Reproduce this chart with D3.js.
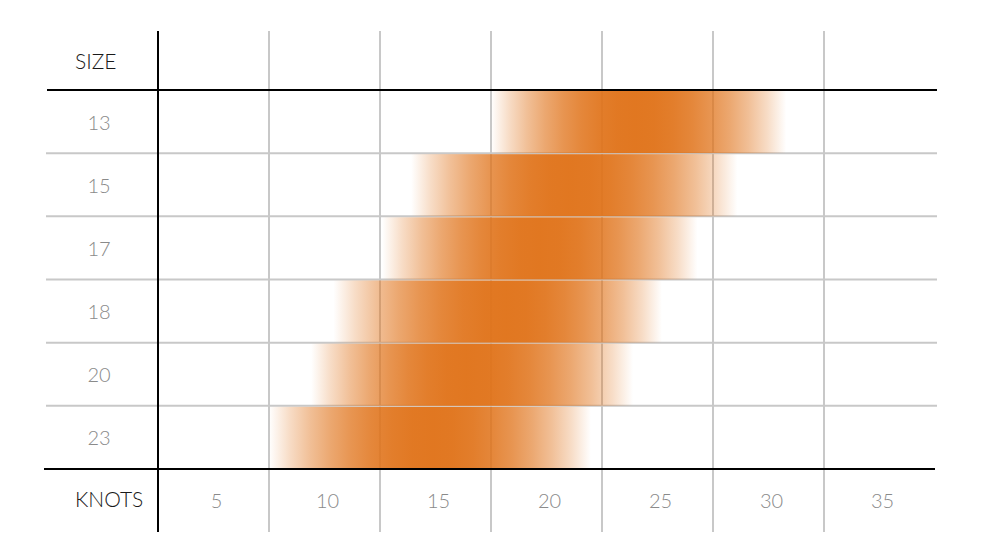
<!DOCTYPE html>
<html>
<head>
<meta charset="utf-8">
<script src="https://cdn.jsdelivr.net/npm/d3@7"></script>
<style>
body { margin: 0; background: #fff; }
text { font-family: Lato, "Open Sans", sans-serif; font-weight: 300; }
</style>
</head>
<body>
<script>
// kite sizes (rows) and wind columns
var sizes = ["13", "15", "17", "18", "20", "23"];
var knots = [5, 10, 15, 20, 25, 30, 35];
// wind range per size, in knots: where it starts, where it works best, where it ends
var rangeLow  = [17.5, 13.9, 12.6, 10.4, 9.4, 7.5];
var rangePeak = [24.0, 21.0, 19.7, 18.2, 16.4, 14.9];
var rangeHigh = [30.8, 28.6, 26.8, 25.2, 23.9, 22.0];

var width = 988, height = 555;
var left = 158, right = 935, gridTop = 31, bodyTop = 90, bodyBottom = 469, gridBottom = 532;
var orange = "#e0731a";

var svg = d3.select("body").append("svg")
  .attr("width", width)
  .attr("height", height);

// each column is 5 knots wide, centred on its label
var x = d3.scaleLinear().domain([2.5, 37.5]).range([left, right]);
var y = d3.scaleBand().domain(sizes).range([bodyTop, bodyBottom]);

var rows = sizes.map(function(s, i) {
  return { size: s, lo: rangeLow[i], peak: rangePeak[i], hi: rangeHigh[i] };
});

// grid lines (gray) go under the bars
var edges = knots.map(function(k) { return k + 2.5; }).slice(0, 6);
svg.selectAll(".vgrid")
  .data(edges)
  .enter().append("line")
  .attr("class", "vgrid")
  .attr("x1", function(d) { return x(d); })
  .attr("x2", function(d) { return x(d); })
  .attr("y1", gridTop)
  .attr("y2", gridBottom)
  .attr("stroke", "#c8c8c8")
  .attr("stroke-width", 2);

svg.selectAll(".hgrid")
  .data(sizes.slice(1))
  .enter().append("line")
  .attr("class", "hgrid")
  .attr("x1", 46)
  .attr("x2", right + 2)
  .attr("y1", function(d) { return y(d); })
  .attr("y2", function(d) { return y(d); })
  .attr("stroke", "#c8c8c8")
  .attr("stroke-width", 2);

// gradients: fade in up to the peak then fade out
var defs = svg.append("defs");
var maxOp = 0.97;
rows.forEach(function(r, i) {
  var x0 = x(r.lo), x1 = x(r.hi);
  var p = (x(r.peak) - x0) / (x1 - x0);
  var g = defs.append("linearGradient")
    .attr("id", "grad" + i)
    .attr("gradientUnits", "userSpaceOnUse")
    .attr("x1", x0).attr("x2", x1)
    .attr("y1", 0).attr("y2", 0);
  var steps = 8, t, j;
  for (j = 0; j <= steps; j++) {
    t = j / steps;
    g.append("stop")
      .attr("offset", t * p)
      .attr("stop-color", orange)
      .attr("stop-opacity", maxOp * (1 - Math.pow(1 - t, 2.2)));
  }
  for (j = 1; j <= steps; j++) {
    t = j / steps;
    g.append("stop")
      .attr("offset", p + t * (1 - p))
      .attr("stop-color", orange)
      .attr("stop-opacity", maxOp * (1 - Math.pow(t, 2.2)));
  }
});

svg.selectAll(".bar")
  .data(rows)
  .enter().append("rect")
  .attr("class", "bar")
  .attr("x", function(d) { return x(d.lo); })
  .attr("width", function(d) { return x(d.hi) - x(d.lo); })
  .attr("y", function(d) { return y(d.size) + 1; })
  .attr("height", y.bandwidth() - 1)
  .attr("fill", function(d, i) { return "url(#grad" + i + ")"; });

// black frame lines on top
svg.append("line")
  .attr("x1", left).attr("x2", left)
  .attr("y1", gridTop).attr("y2", gridBottom)
  .attr("stroke", "#000").attr("stroke-width", 2);
svg.append("line")
  .attr("x1", 47).attr("x2", right + 2)
  .attr("y1", bodyTop).attr("y2", bodyTop)
  .attr("stroke", "#000").attr("stroke-width", 2);
svg.append("line")
  .attr("x1", 44).attr("x2", right)
  .attr("y1", bodyBottom).attr("y2", bodyBottom)
  .attr("stroke", "#000").attr("stroke-width", 2);

// labels
svg.append("text")
  .attr("x", 75).attr("y", (gridTop + bodyTop) / 2)
  .attr("dominant-baseline", "central")
  .attr("font-size", 21)
  .attr("fill", "#1a1a1a")
  .text("SIZE");

svg.append("text")
  .attr("x", 75).attr("y", (bodyBottom + gridBottom) / 2 - 2)
  .attr("dominant-baseline", "central")
  .attr("font-size", 21)
  .attr("fill", "#1a1a1a")
  .text("KNOTS");

svg.selectAll(".sizeLabel")
  .data(sizes)
  .enter().append("text")
  .attr("class", "sizeLabel")
  .attr("x", 99)
  .attr("y", function(d) { return y(d) + y.bandwidth() / 2; })
  .attr("text-anchor", "middle")
  .attr("dominant-baseline", "central")
  .attr("font-size", 20)
  .attr("fill", "#8a8a8a")
  .text(function(d) { return d; });

svg.selectAll(".knotLabel")
  .data(knots)
  .enter().append("text")
  .attr("class", "knotLabel")
  .attr("x", function(d) { return x(d) + 3; })
  .attr("y", (bodyBottom + gridBottom) / 2 - 1)
  .attr("text-anchor", "middle")
  .attr("dominant-baseline", "central")
  .attr("font-size", 20)
  .attr("fill", "#8a8a8a")
  .text(function(d) { return d; });
</script>
</body>
</html>
